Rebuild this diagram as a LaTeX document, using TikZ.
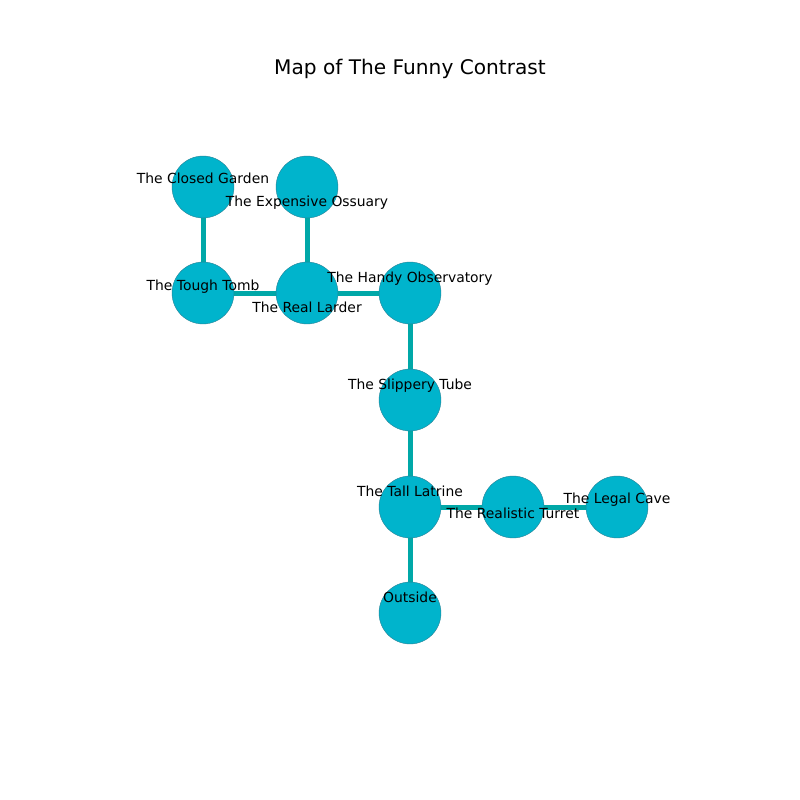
\documentclass[tikz,border=0pt]{standalone}
\usepackage{fontspec}
\setmainfont{DejaVu Sans}
\definecolor{nodefill}{RGB}{0,180,204}
\definecolor{nodeline}{RGB}{40,130,150}
\definecolor{edgecol}{RGB}{0,168,168}
\tikzset{
  room/.style={circle, fill=nodefill, draw=nodeline, line width=0.3pt, minimum size=44.6pt, inner sep=0pt},
  lbl/.style={font=\fontsize{10}{12}\selectfont, text=black, inner sep=0pt, anchor=base},
  link/.style={draw=edgecol, line width=3.6pt}
}
\begin{document}
\begin{tikzpicture}[x=0.72pt, y=-0.72pt]
\useasboundingbox (0,0) rectangle (800,800);
\node[font=\fontsize{14.5}{16}\selectfont, inner sep=0pt] (title) at (410,68.5) {Map of The Funny Contrast};
\coordinate (cg) at (203,187);
\coordinate (eo) at (307,187);
\coordinate (tt) at (203,293);
\coordinate (rl) at (307,293);
\coordinate (ho) at (410,293);
\coordinate (st) at (410,400);
\coordinate (tl) at (410,507);
\coordinate (rt) at (513,507);
\coordinate (lc) at (617,507);
\coordinate (out) at (410,613);
\draw[link] (cg) -- (tt);
\draw[link] (eo) -- (rl);
\draw[link] (tt) -- (rl);
\draw[link] (rl) -- (ho);
\draw[link] (ho) -- (st);
\draw[link] (st) -- (tl);
\draw[link] (tl) -- (rt);
\draw[link] (rt) -- (lc);
\draw[link] (tl) -- (out);
\node[room] (ncg) at (cg) {};
\node[room] (neo) at (eo) {};
\node[room] (ntt) at (tt) {};
\node[room] (nrl) at (rl) {};
\node[room] (nho) at (ho) {};
\node[room] (nst) at (st) {};
\node[room] (ntl) at (tl) {};
\node[room] (nrt) at (rt) {};
\node[room] (nlc) at (lc) {};
\node[room] (nout) at (out) {};
\node[lbl] (lcg) at (203,183) {The Closed Garden};
\node[lbl] (leo) at (307,206) {The Expensive Ossuary};
\node[lbl] (ltt) at (203,290) {The Tough Tomb};
\node[lbl] (lrl) at (307,312) {The Real Larder};
\node[lbl] (lho) at (410,282) {The Handy Observatory};
\node[lbl] (lst) at (410,389) {The Slippery Tube};
\node[lbl] (ltl) at (410,496) {The Tall Latrine};
\node[lbl] (lrt) at (513,518) {The Realistic Turret};
\node[lbl] (llc) at (617,503) {The Legal Cave};
\node[lbl] (lout) at (410,602) {Outside};
\end{tikzpicture}
\end{document}
